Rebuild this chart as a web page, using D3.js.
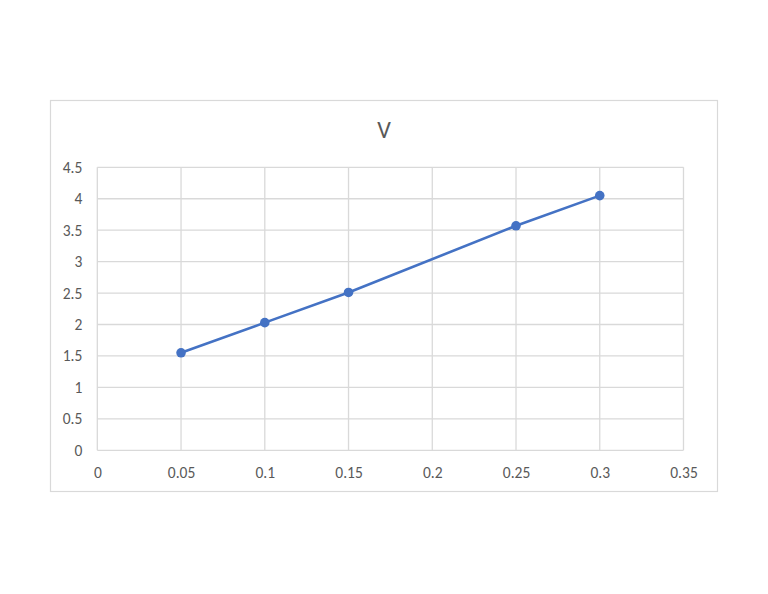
<!DOCTYPE html>
<html><head><meta charset="utf-8">
<script src="https://cdn.jsdelivr.net/npm/d3@7"></script>
<style>body{margin:0;background:#fff;} text{font-family:Carlito,Calibri,"Open Sans","Noto Sans",sans-serif;}</style>
</head><body>
<svg id="c" width="768" height="594"></svg>
<script>
const xValues = [0.05, 0.1, 0.15, 0.25, 0.3];
const yValues = [1.55, 2.03, 2.51, 3.57, 4.05];
const xTicks = [0, 0.05, 0.1, 0.15, 0.2, 0.25, 0.3, 0.35];
const yTicks = [0, 0.5, 1, 1.5, 2, 2.5, 3, 3.5, 4, 4.5];
const title = "V";

const svg = d3.select("#c");
svg.append("rect").attr("x",50.5).attr("y",100.5).attr("width",667).attr("height",391)
  .attr("fill","#fff").attr("stroke","#d9d9d9").attr("stroke-width",1.2);

const x = d3.scaleLinear().domain([0,0.35]).range([97.3,683.5]);
const y = d3.scaleLinear().domain([0,4.5]).range([450.3,167.3]);

const grid = svg.append("g");
grid.selectAll("line.h").data(yTicks).join("line")
  .attr("x1",x(0)).attr("x2",x(0.35)).attr("y1",d=>y(d)).attr("y2",d=>y(d))
  .attr("stroke","#d9d9d9").attr("stroke-width",1.3);
grid.selectAll("line.v").data(xTicks).join("line")
  .attr("y1",y(0)).attr("y2",y(4.5)).attr("x1",d=>x(d)).attr("x2",d=>x(d))
  .attr("stroke","#d9d9d9").attr("stroke-width",1.3);

const yAxis = d3.axisLeft(y).tickValues(yTicks).tickSize(0).tickPadding(15).tickFormat(d=>String(d));
const gy = svg.append("g").attr("transform",`translate(${x(0)},0)`).call(yAxis);
gy.select(".domain").remove();
gy.selectAll("text").attr("fill","#595959").attr("font-size",15.5);

const xAxis = d3.axisBottom(x).tickValues(xTicks).tickSize(0).tickPadding(16.5).tickFormat(d=>String(d));
const gx = svg.append("g").attr("transform",`translate(0,${y(0)})`).call(xAxis);
gx.select(".domain").remove();
gx.selectAll("text").attr("fill","#595959").attr("font-size",15.5);

const data = xValues.map((v,i)=>[v,yValues[i]]);
svg.append("path").datum(data)
  .attr("d",d3.line().x(d=>x(d[0])).y(d=>y(d[1])))
  .attr("fill","none").attr("stroke","#4472c4").attr("stroke-width",2.6);
svg.selectAll("circle.p").data(data).join("circle")
  .attr("cx",d=>x(d[0])).attr("cy",d=>y(d[1])).attr("r",4.8).attr("fill","#4472c4");

svg.append("text").attr("x",384).attr("y",138).attr("text-anchor","middle")
  .attr("fill","#595959").attr("font-size",24).text(title);
</script>
</body></html>
